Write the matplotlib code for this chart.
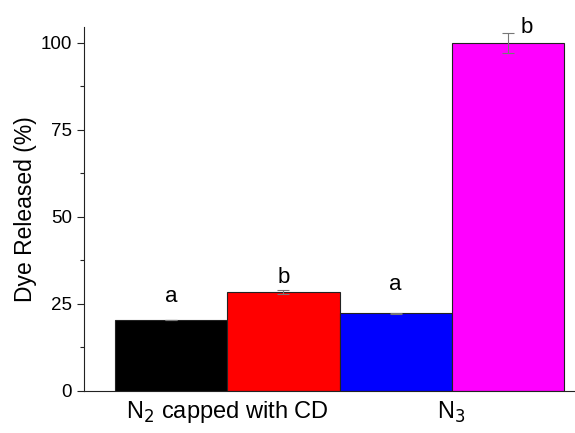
import matplotlib.pyplot as plt
import numpy as np

plt.rcParams["font.family"] = ["Liberation Sans", "DejaVu Sans"]

# dye release per sample, two bars per group
values = [20.4, 28.4, 22.3, 100.0]
errors = [0.0, 0.5, 0.2, 2.9]
colors = ["#000000", "#ff0000", "#0000ff", "#ff00ff"]
letters = ["a", "b", "a", "b"]
group_labels = ["N$_2$ capped with CD", "N$_3$"]

x = np.arange(len(values))

fig = plt.figure(figsize=(5.75, 4.33), dpi=100)
ax = fig.add_axes([0.146, 0.097, 0.852, 0.841])

ax.bar(x, values, width=1.0, color=colors, edgecolor="#222222", linewidth=0.8,
       yerr=errors, error_kw=dict(ecolor="#777777", elinewidth=0.8, capsize=4, capthick=0.8))

# significance letters above each bar
letter_offsets = [(0, 13), (0, 5), (0, 16), (14, 0)]
for xi, v, e, lab, (dx, dy) in zip(x, values, errors, letters, letter_offsets):
    ax.annotate(lab, (xi, v + e), xytext=(dx, dy), textcoords="offset points",
                ha="center", va="baseline", fontsize=16)

ax.set_xlim(-0.78, 3.59)
ax.set_ylim(0, 104.6)
ax.set_yticks([0, 25, 50, 75, 100])
ax.set_yticks([12.5, 37.5, 62.5, 87.5], minor=True)
ax.set_xticks([0.5, 2.5])
ax.set_xticklabels(group_labels, fontsize=17)
ax.tick_params(axis="x", length=0, pad=6)
ax.tick_params(axis="y", which="major", length=5, width=0.8, labelsize=13.5, colors="#222222")
ax.tick_params(axis="y", which="minor", length=3, width=0.8, colors="#222222")
for lbl in ax.get_yticklabels():
    lbl.set_color("black")
ax.set_ylabel("Dye Released (%)", fontsize=16.5, labelpad=3)

ax.spines["top"].set_visible(False)
ax.spines["right"].set_visible(False)
ax.spines["left"].set_color("#222222")
ax.spines["bottom"].set_color("#222222")

fig.savefig("out.png", dpi=100)
